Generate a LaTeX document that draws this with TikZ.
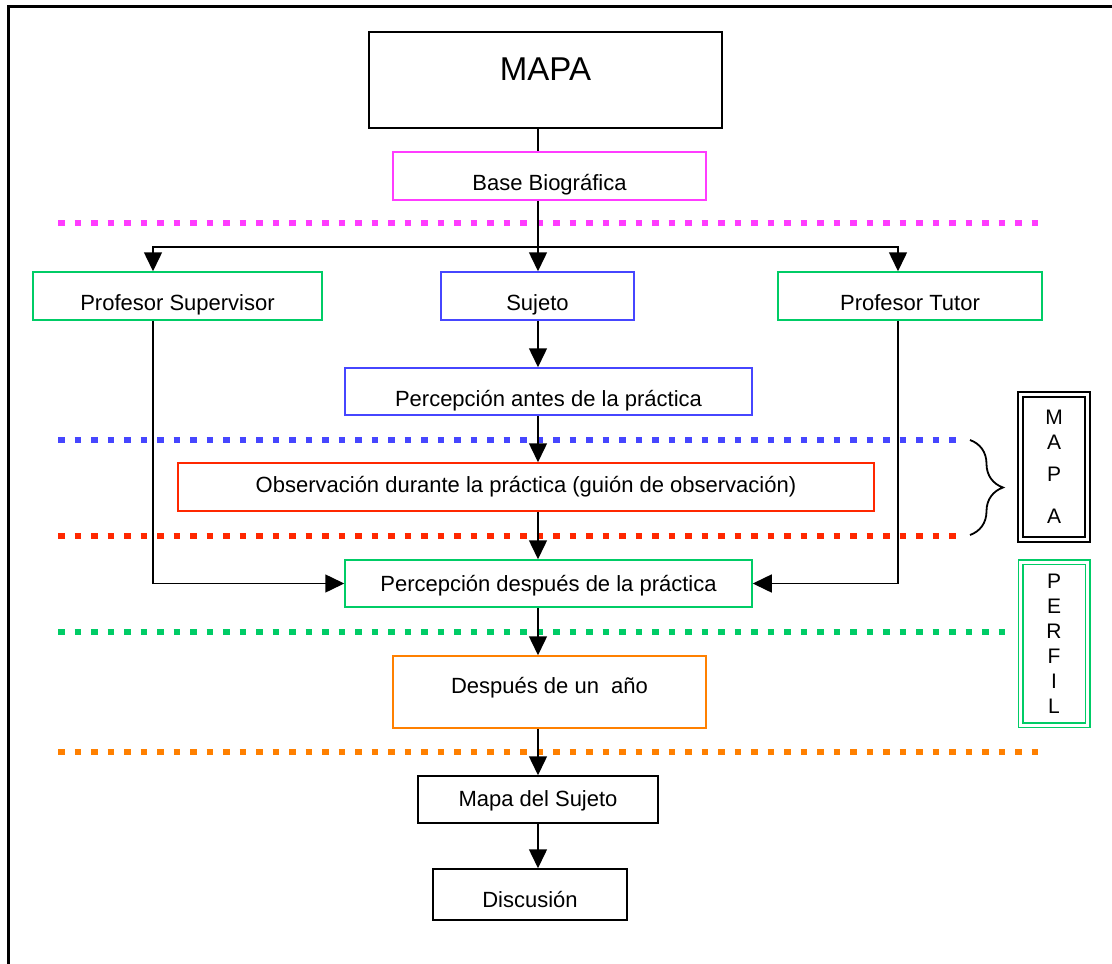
\documentclass[tikz,border=0pt]{standalone}
\usepackage{fontspec}
\setmainfont{Liberation Sans}
\usepackage{tikz}
\usetikzlibrary{arrows.meta,positioning,decorations.pathreplacing}
\definecolor{magenta}{RGB}{255,60,255}
\definecolor{azul}{RGB}{70,70,255}
\definecolor{rojo}{RGB}{255,40,0}
\definecolor{verde}{RGB}{0,204,102}
\definecolor{naranja}{RGB}{255,128,0}
\tikzstyle{box} = [draw=black, rectangle, fill=white, line width=1.5pt, inner xsep=0pt, inner ysep=0pt, font=\fontsize{22}{26}\selectfont]
\tikzstyle{sidebox} = [box, double=white, line width=2pt, double distance=3pt, align=center, minimum width=67pt]
\tikzstyle{arrow} = [line width=1.5pt,-{Triangle[length=19pt,width=18pt]},draw=black]
\tikzstyle{puntos} = [line width=6.5pt, dash pattern=on 6.5pt off 10pt]

\begin{document}
\begin{tikzpicture}[x=1pt,y=-1pt]
    \useasboundingbox (0,0) rectangle (1112,964);
    \draw[line width=3pt] (1112,6) -| (8,964);

    \draw[puntos, magenta] (58,223) -- (1040,223);
    \draw[puntos, azul] (58,440) -- (965,440);
    \draw[puntos, rojo] (58,536) -- (965,536);
    \draw[puntos, verde] (58,632) -- (1015,632);
    \draw[puntos, naranja] (58,752) -- (1040,752);

    \node (mapa) [box, line width=2.5pt, minimum width=353pt, text height=48pt, text depth=48pt, font=\fontsize{33}{38}\selectfont] at (545.5,80) {MAPA};
    \node (base) [box, draw=magenta, minimum width=313pt, text height=38pt, text depth=10pt] at (549.5,176) {Base Biográfica};
    \node (sup) [box, draw=verde, minimum width=289pt, text height=38pt, text depth=10pt] at (177.5,296) {Profesor Supervisor};
    \node (suj) [box, draw=azul, minimum width=193pt, text height=38pt, text depth=10pt] at (537.5,296) {Sujeto};
    \node (tut) [box, draw=verde, minimum width=264pt, text height=38pt, text depth=10pt] at (910,296) {Profesor Tutor};
    \node (antes) [box, draw=azul, minimum width=407pt, text height=38pt, text depth=9pt] at (548.5,391.5) {Percepción antes de la práctica};
    \node (obs) [box, draw=rojo, minimum width=696pt, text height=29pt, text depth=19pt] at (526,487) {Observación durante la práctica (guión de observación)};
    \node (desp) [box, draw=verde, minimum width=407pt, text height=31pt, text depth=16pt] at (548.5,583.5) {Percepción después de la práctica};
    \node (anio) [box, draw=naranja, minimum width=313pt, text height=37pt, text depth=35pt] at (549.5,692) {Después de un~ año};
    \node (msuj) [box, minimum width=240pt, text height=30pt, text depth=17pt] at (538,799.5) {Mapa del Sujeto};
    \node (disc) [box, minimum width=194pt, text height=38pt, text depth=13pt] at (530,894.5) {Discusión};

    \node (mapalado) [sidebox, minimum height=145pt, font=\fontsize{21}{24}\selectfont] at (1054,467) {M\\[1pt]A\\[8pt]P\\[18pt]A};
    \node (perfil) [sidebox, draw=verde, line width=1.5pt, minimum height=163pt, font=\fontsize{21}{25}\selectfont] at (1054,643.5) {P\\E\\R\\F\\I\\L};

    \coordinate (spine) at (538,0);
    \coordinate (supx) at (153,0);
    \coordinate (tutx) at (898,0);
    \coordinate (split) at (538,247);

    \draw[line width=1.5pt] (mapa.south -| spine) -- (base.north -| spine);
    \draw[arrow] (base.south -| spine) -- (suj.north -| spine);
    \draw[arrow] (split) -| (sup.north -| supx);
    \draw[arrow] (split) -| (tut.north -| tutx);
    \draw[arrow] (suj.south -| spine) -- (antes.north -| spine);
    \draw[arrow] (antes.south -| spine) -- (obs.north -| spine);
    \draw[arrow] (obs.south -| spine) -- (desp.north -| spine);
    \draw[arrow] (sup.south -| supx) |- (desp.west);
    \draw[arrow] (tut.south -| tutx) |- (desp.east);
    \draw[arrow] (desp.south -| spine) -- (anio.north -| spine);
    \draw[arrow] (anio.south -| spine) -- (msuj.north -| spine);
    \draw[arrow] (msuj.south -| spine) -- (disc.north -| spine);

    \draw[line width=1.8pt, decorate, decoration={brace, amplitude=33pt}] (970,440) -- (970,535);
    \end{tikzpicture}
\end{document}
